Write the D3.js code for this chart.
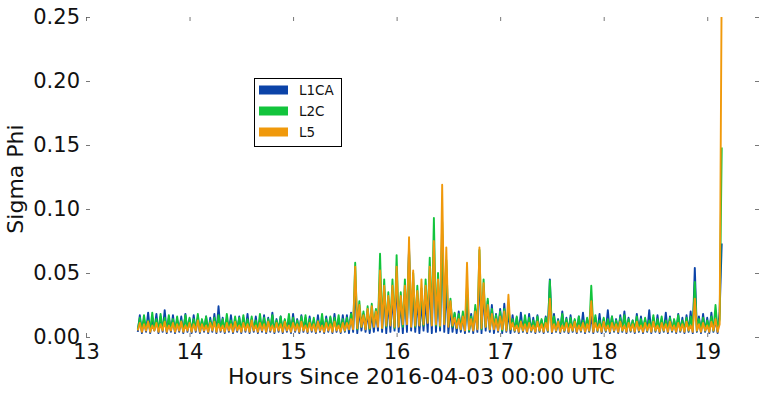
<!DOCTYPE html>
<html>
<head>
<meta charset="utf-8">
<script src="https://cdn.jsdelivr.net/npm/d3@7"></script>
<style>
html, body { margin: 0; padding: 0; background: #fff; }
svg { display: block; }
text { font-family: "DejaVu Sans", sans-serif; fill: #111; }
</style>
</head>
<body>
<svg id="chart" width="765" height="394"></svg>
<script>
// ---- Data (values in thousandths of Sigma Phi, sampled every 0.02 h from 13.50 h) ----
const startHour = 13.5;
const stepHour = 0.02;
const seriesNames = ["L1CA", "L2C", "L5"];
const seriesColors = ["#0b43a8", "#12c43c", "#f0990b"];
const xTicks = [13, 14, 15, 16, 17, 18, 19];
const yTicks = [0, 0.05, 0.10, 0.15, 0.20, 0.25];
const yTickLabels = ["0.00", "0.05", "0.10", "0.15", "0.20", "0.25"];

const l1ca = [
4,17,3,14,4,19,3,15,5,18, 3,16,4,21,3,15,4,17,3,13,
4,16,3,18,4,14,3,17,4,15, 3,13,4,16,3,15,4,18,3,24,
4,15,3,14,4,17,3,13,4,16, 3,15,4,18,3,14,4,16,3,13,
4,17,3,15,4,19,3,14,4,16, 3,13,4,15,3,18,4,14,3,17,
4,15,3,16,4,13,3,17,4,14, 3,16,4,15,3,18,4,14,3,17,
4,17,3,19,4,40,3,22,5,18, 4,20,3,19,4,21,5,45,4,35,
3,28,4,32,5,45,4,28,3,35, 4,70,5,35,4,30,3,28,5,30,
4,45,3,60,4,35,5,80,4,40, 3,22,4,18,3,20,4,17,3,30,
4,18,3,22,4,50,3,35,5,28, 4,25,3,18,4,22,3,26,4,20,
3,
17,4,15,3,19,4,14,3,18,4, 15,3,17,4,13,3,16,4,45,3,
18,4,14,3,20,4,15,3,17,4, 13,3,16,4,19,3,14,4,17,3,
15,4,18,3,14,4,21,3,16,4, 14,3,17,4,20,3,15,4,13,3,
18,4,16,3,14,4,21,3,15,4, 17,3,14,4,19,3,16,4,13,3,
18,4,15,3,17,4,20,3,54,4, 16,3,18,4,15,3,19,4,14,3,20,
73
];

const l2c = [
6,15,5,17,6,13,5,19,6,14, 5,18,6,15,5,17,6,14,5,16,
6,13,5,17,6,15,5,14,6,18, 5,14,6,16,5,13,6,15,5,17,
6,14,5,18,6,13,5,16,6,15, 5,17,6,14,5,16,6,13,5,18,
6,15,5,14,6,17,5,13,6,16, 5,14,6,18,5,15,6,13,5,16,
6,17,5,14,6,15,5,13,6,18, 5,14,6,16,5,15,6,17,5,14,
5,15,6,18,7,58,6,28,8,20, 7,24,6,26,8,22,9,65,7,45,
8,35,10,45,7,64,9,35,8,45, 11,68,9,50,8,40,10,38,9,45,
12,62,10,93,9,50,8,90,11,60, 9,30,8,19,7,18,6,20,6,40,
5,16,6,25,7,68,6,45,8,30, 6,22,7,17,6,20,5,22,6,24,
6,
14,5,16,6,13,5,17,6,15,5, 13,6,16,5,14,6,15,5,44,6,
16,5,13,6,18,5,14,6,15,5, 14,6,16,5,13,6,15,5,40,6,
17,5,13,6,15,5,14,6,16,5, 13,6,15,5,17,6,14,5,13,6,
16,5,14,6,15,5,13,6,17,5, 14,6,16,5,13,6,15,5,14,6,
17,5,13,6,15,5,16,6,43,5, 14,6,15,5,13,6,16,5,25,6,14,
148
];

const l5 = [
5,11,4,10,5,12,4,9,5,11, 4,10,5,12,4,9,5,11,4,10,
5,12,4,9,5,11,4,10,5,13, 4,10,5,9,4,11,5,12,4,10,
5,9,4,11,5,10,4,12,5,9, 4,11,5,10,4,13,5,9,4,11,
5,10,4,12,5,9,4,11,5,10, 4,12,5,9,4,11,5,10,4,12,
5,9,4,11,5,10,4,12,5,9, 4,11,5,10,4,12,5,9,4,11,
5,11,6,14,6,55,7,25,8,17, 6,22,7,24,8,20,8,52,7,40,
9,32,9,40,8,55,8,32,10,40, 10,78,8,52,9,36,9,45,10,40,
11,55,9,75,10,45,9,119,10,70, 8,28,9,15,7,14,6,16,5,58,
6,14,5,20,6,70,7,42,8,25, 6,18,6,14,5,16,6,20,5,33,
6,
11,5,9,4,12,5,10,4,11,5, 9,4,12,5,10,4,11,5,30,4,
10,5,12,4,9,5,11,4,10,5, 12,4,9,5,11,4,10,5,28,4,
11,5,10,4,12,5,9,4,11,5, 10,4,12,5,9,4,11,5,10,4,
12,5,9,4,11,5,10,4,12,5, 9,4,11,5,10,4,12,5,9,4,
11,5,10,4,12,5,9,4,30,5, 10,4,11,5,9,4,12,5,14,4,10,
280
];

const seriesValues = [l1ca, l2c, l5];

(function draw() {
  const svg = d3.select("#chart");
  const pLeft = 86, pRight = 759, pTop = 17, pBottom = 337;
  const fs = 21;

  const x = d3.scaleLinear().domain([13, 19.5]).range([pLeft, pRight]);
  const y = d3.scaleLinear().domain([0, 0.25]).range([pBottom, pTop]);

  svg.append("defs").append("clipPath").attr("id", "plotclip")
    .append("rect").attr("x", pLeft).attr("y", pTop)
    .attr("width", pRight - pLeft).attr("height", pBottom - pTop);

  const line = d3.line()
    .x((d, i) => x(startHour + i * stepHour))
    .y(d => y(d / 1000));

  const plot = svg.append("g").attr("clip-path", "url(#plotclip)");
  seriesValues.forEach((vals, k) => {
    plot.append("path")
      .datum(vals)
      .attr("fill", "none")
      .attr("stroke", seriesColors[k])
      .attr("stroke-width", 1.9)
      .attr("stroke-linejoin", "round")
      .attr("d", line);
  });

  function styleAxis(g) {
    g.select(".domain").remove();
    g.selectAll(".tick line").attr("stroke", "#555").attr("stroke-width", 0.8);
    g.selectAll(".tick text").attr("font-size", fs).attr("fill", "#111")
      .attr("font-family", "DejaVu Sans, sans-serif");
  }

  svg.append("g").attr("transform", `translate(${pLeft},0)`)
    .call(d3.axisLeft(y).tickValues(yTicks).tickSizeInner(-4).tickSizeOuter(0)
      .tickPadding(6).tickFormat((d, i) => yTickLabels[i]))
    .call(styleAxis);

  svg.append("g").attr("transform", `translate(${pRight},0)`)
    .call(d3.axisRight(y).tickValues(yTicks).tickSizeInner(-4).tickSizeOuter(0).tickFormat(""))
    .call(styleAxis);

  svg.append("g").attr("transform", `translate(0,${pBottom})`)
    .call(d3.axisBottom(x).tickValues(xTicks).tickSizeInner(-4).tickSizeOuter(0)
      .tickPadding(7).tickFormat(d3.format("d")))
    .call(styleAxis);

  svg.append("g").attr("transform", `translate(0,${pTop})`)
    .call(d3.axisTop(x).tickValues(xTicks).tickSizeInner(-4).tickSizeOuter(0).tickFormat(""))
    .call(styleAxis);

  svg.append("text")
    .attr("x", (pLeft + pRight) / 2 - 1).attr("y", 384)
    .attr("text-anchor", "middle").attr("font-size", 22)
    .text("Hours Since 2016-04-03 00:00 UTC");

  svg.append("text")
    .attr("transform", `translate(23,${(pTop + pBottom) / 2 + 2}) rotate(-90)`)
    .attr("text-anchor", "middle").attr("font-size", 22)
    .text("Sigma Phi");

  const lg = svg.append("g").attr("transform", "translate(254,78)");
  lg.append("rect").attr("x", 0.5).attr("y", 0.5).attr("width", 87).attr("height", 68)
    .attr("fill", "#fff").attr("stroke", "#000").attr("stroke-width", 1);
  seriesNames.forEach((name, k) => {
    const cy = 12 + k * 21;
    lg.append("rect").attr("x", 5).attr("y", cy - 4.5).attr("width", 29).attr("height", 9)
      .attr("fill", seriesColors[k]);
    lg.append("text").attr("x", 45).attr("y", cy).attr("dy", "0.36em")
      .attr("font-size", 13.5).text(name);
  });
})();
</script>
</body>
</html>
